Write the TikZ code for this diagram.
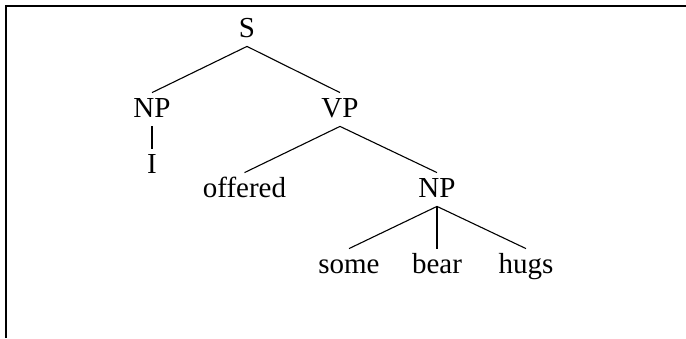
\documentclass[tikz,border=0pt]{standalone}
\usepackage{fontspec}
\setmainfont{Liberation Serif}
\usepackage{tikz}

\begin{document}
\begin{tikzpicture}[x=0.5pt, y=-0.5pt,
	word/.style={anchor=base, font=\fontsize{14.5}{17}\selectfont, text height=9.5pt, text depth=2pt, inner xsep=0pt, inner ysep=2.5pt},
	branch/.style={line width=0.55pt}]

	\useasboundingbox (0,0) rectangle (686,338);

	% open frame (top and left edges only)
	\draw[line width=0.8pt] (5.7,338) -- (5.7,5.7) -- (686,5.7);

	% tree labels
	\node[word] (s) at (247,37) {S};
	\node[word] (np1) at (152,117) {NP};
	\node[word] (vp) at (340,117) {VP};
	\node[word] (i) at (152,173) {I};
	\node[word] (offered) at (244.5,197) {offered};
	\node[word] (np2) at (437,197) {NP};
	\node[word] (some) at (349,273) {some};
	\node[word] (bear) at (437,273) {bear};
	\node[word] (hugs) at (526,273) {hugs};

	% branches
	\draw[branch] (s.south) -- (np1.north);
	\draw[branch] (s.south) -- (vp.north);
	\draw[branch] (np1.south) -- (i.north);
	\draw[branch] (vp.south) -- (offered.north);
	\draw[branch] (vp.south) -- (np2.north);
	\draw[branch] (np2.south) -- (some.north);
	\draw[branch] (np2.south) -- (bear.north);
	\draw[branch] (np2.south) -- (hugs.north);

\end{tikzpicture}
\end{document}
